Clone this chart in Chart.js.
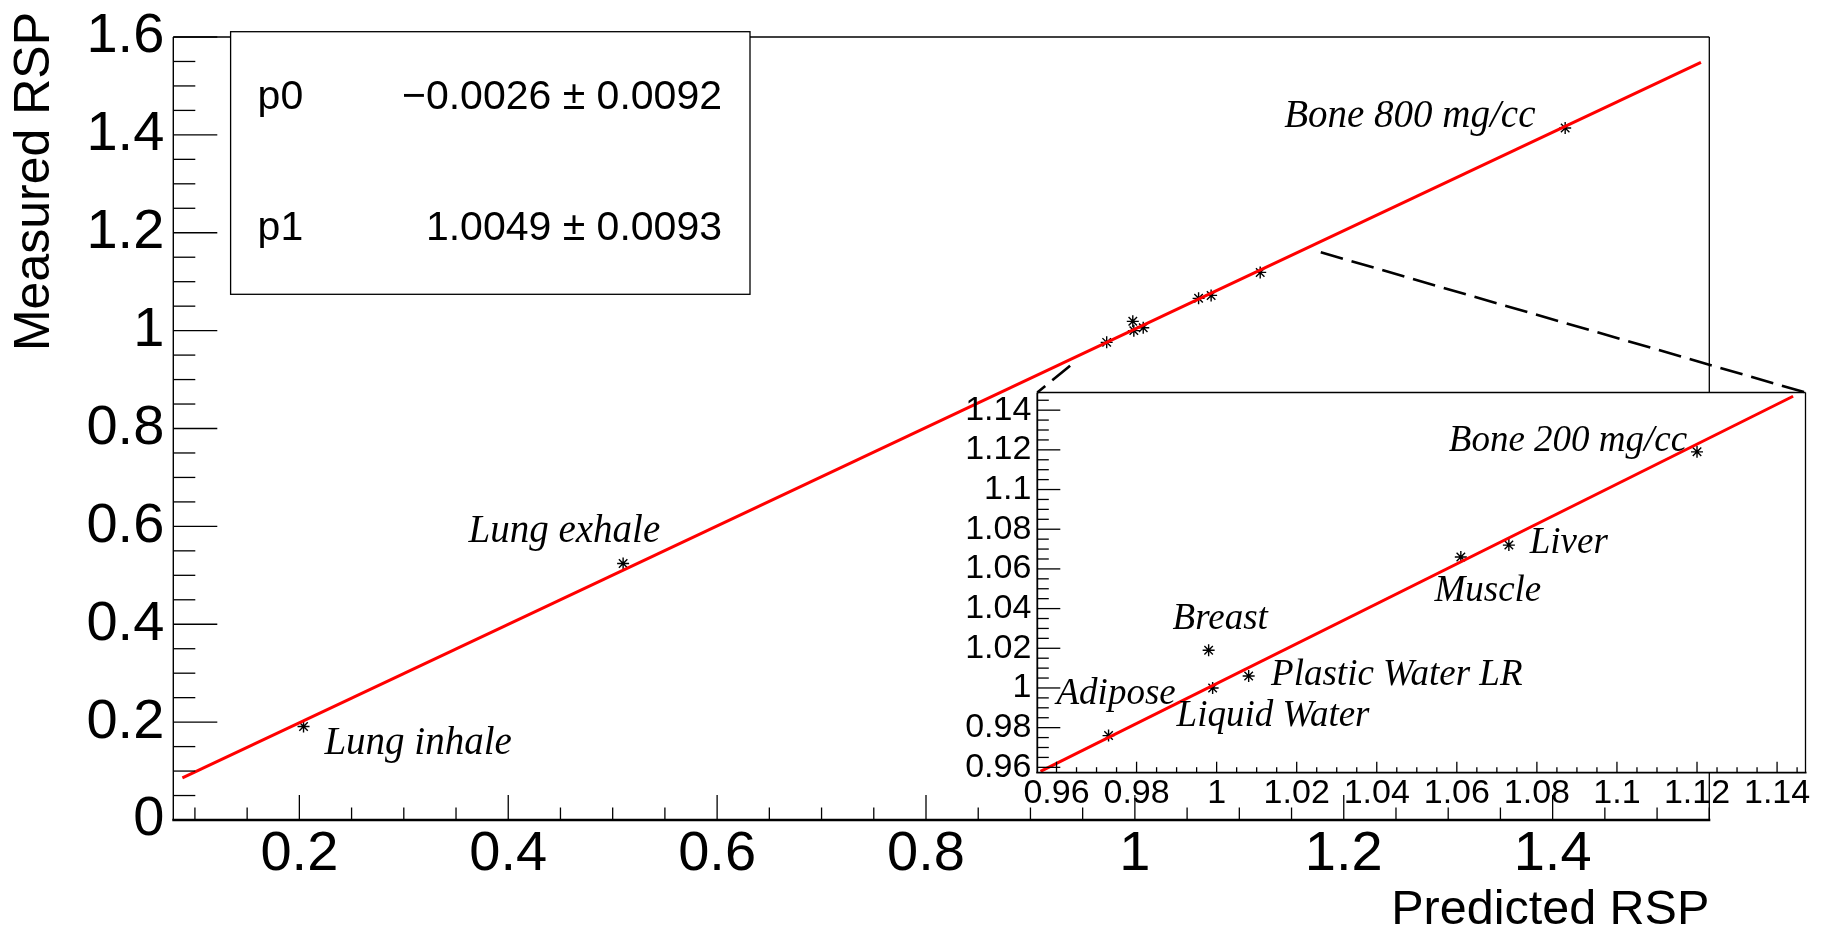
<!DOCTYPE html>
<html lang="en">
<head>
  <meta charset="UTF-8" />
  <title>Measured vs predicted RSP</title>
  <script src="https://cdn.jsdelivr.net/npm/chart.js@4.4.0/dist/chart.umd.min.js"></script>
  <style>
    body { margin: 0; background: #fff; }
    .wrap { position: relative; width: 1828px; height: 935px; }
    canvas { position: absolute; left: 0; top: 0; }
  </style>
</head>
<body>
  <div class="wrap">
    <canvas id="mainChart" width="1828" height="935"></canvas>
    <canvas id="zoomChart" width="1828" height="935"></canvas>
  </div>

  <script>
    // tissue materials, predicted vs measured relative stopping power
    const materials    = ['Lung inhale', 'Lung exhale', 'Adipose', 'Breast', 'Liquid Water',
                          'Plastic Water LR', 'Muscle', 'Liver', 'Bone 200 mg/cc', 'Bone 800 mg/cc'];
    const predictedRSP = [0.204, 0.510, 0.973, 0.998, 0.999, 1.008, 1.061, 1.073, 1.120, 1.412];
    const measuredRSP  = [0.191, 0.524, 0.976, 1.019, 1.000, 1.006, 1.066, 1.072, 1.119, 1.414];

    // where each name is written (data coords of the text's left baseline) and in which panel
    const labelPanel = ['main', 'main', 'zoom', 'zoom', 'zoom', 'zoom', 'zoom', 'zoom', 'zoom', 'main'];
    const labelX     = [0.224, 0.362, 0.960, 0.989, 0.990, 1.0136, 1.0544, 1.0782, 1.058, 1.143];
    const labelY     = [0.134, 0.569, 0.992, 1.0295, 0.981, 1.0015, 1.044, 1.0678, 1.1195, 1.417];

    // pol1 fit, ends of the drawn line
    const fitLineX  = [0.088, 1.542];
    const fitLineY  = [0.086, 1.548];
    const zoomFitX  = [0.956, 1.144];
    const zoomFitY  = [0.958, 1.147];
    const fitNames  = ['p0', 'p1'];
    const fitValues = ['\u22120.0026 \u00b1 0.0092', '1.0049 \u00b1 0.0093'];

    // axis ranges
    const mainX = [0.0793, 1.55];
    const mainY = [0, 1.6];
    const zoomX = [0.9552, 1.1471];
    const zoomY = [0.9573, 1.1489];
    // corners of the zoomed region in the big plot, joined to the inset by dashes
    const zoomFromX = [0.938, 1.178];
    const zoomFromY = [0.928, 1.160];

    Chart.defaults.font.family = "'Liberation Sans', Arial, sans-serif";
    Chart.defaults.color = '#000';

    const fmt = v => String(Number(v.toFixed(3)));
    const pts = (xs, ys) => xs.map((x, i) => ({ x: x, y: ys[i] }));

    function tickValues(min, max, step) {
      const out = [];
      for (let k = Math.ceil(min / step - 1e-6); k * step <= max + 1e-9; k++) out.push(k * step);
      return out;
    }

    function makeRootPlugin(cfg) {
      return {
        id: 'rootStyle',
        beforeDraw(chart) {
          const { ctx, chartArea: a } = chart;
          ctx.save();
          ctx.fillStyle = '#fff';
          ctx.fillRect(a.left, a.top, a.right - a.left, a.bottom - a.top);
          ctx.restore();
        },
        afterDraw(chart) {
          const { ctx, chartArea: a, scales } = chart;
          const sx = scales.x, sy = scales.y;
          const line = (x1, y1, x2, y2) => { ctx.beginPath(); ctx.moveTo(x1, y1); ctx.lineTo(x2, y2); ctx.stroke(); };
          const isMajor = (v, m) => Math.abs(v / m - Math.round(v / m)) < 1e-6;
          ctx.save();
          ctx.strokeStyle = '#000';

          // ticks, pointing into the frame
          ctx.lineWidth = 1.3;
          tickValues(sx.min, sx.max, cfg.xMinor).forEach(v => {
            const p = sx.getPixelForValue(v);
            line(p, a.bottom, p, a.bottom - (isMajor(v, cfg.xMajor) ? cfg.xTick : cfg.xTick / 2));
          });
          tickValues(sy.min, sy.max, cfg.yMinor).forEach(v => {
            const p = sy.getPixelForValue(v);
            line(a.left, p, a.left + (isMajor(v, cfg.yMajor) ? cfg.yTick : cfg.yTick / 2), p);
          });

          // frame
          ctx.lineWidth = 1.3;
          line(a.left, a.top, a.right, a.top);
          line(a.right, a.top, a.right, a.bottom);
          ctx.lineWidth = cfg.yAxisWidth;
          line(a.left, a.top, a.left, a.bottom);
          ctx.lineWidth = cfg.xAxisWidth;
          line(a.left - 1, a.bottom, a.right + 1, a.bottom);

          // material names
          ctx.fillStyle = '#000';
          ctx.font = 'italic ' + cfg.labelSize + "px 'Liberation Serif', 'Times New Roman', serif";
          ctx.textAlign = 'left';
          ctx.textBaseline = 'alphabetic';
          materials.forEach((name, i) => {
            if (labelPanel[i] !== cfg.panel) return;
            ctx.fillText(name, sx.getPixelForValue(labelX[i]), sy.getPixelForValue(labelY[i]));
          });
          ctx.restore();

          if (cfg.extra) cfg.extra(chart);
        }
      };
    }

    // fit box and y title of the big plot
    function drawStats(chart) {
      const { ctx } = chart;
      const box = { left: 230.6, top: 31.7, right: 750, bottom: 294.3 };
      ctx.save();
      ctx.fillStyle = '#fff';
      ctx.fillRect(box.left, box.top, box.right - box.left, box.bottom - box.top);
      ctx.strokeStyle = '#000';
      ctx.lineWidth = 1.3;
      ctx.strokeRect(box.left, box.top, box.right - box.left, box.bottom - box.top);
      ctx.fillStyle = '#000';
      ctx.font = "41px 'Liberation Sans', Arial, sans-serif";
      ctx.textBaseline = 'middle';
      const h = box.bottom - box.top;
      fitNames.forEach((name, i) => {
        const yy = box.top + h * (i * 2 + 1) / 4;
        ctx.textAlign = 'left';
        ctx.fillText(name, box.left + 27, yy);
        ctx.textAlign = 'right';
        ctx.fillText(fitValues[i], box.right - 28, yy);
      });

      ctx.font = "50px 'Liberation Sans', Arial, sans-serif";
      ctx.translate(35, 12);
      ctx.rotate(-Math.PI / 2);
      ctx.textAlign = 'right';
      ctx.fillText('Measured RSP', 0, 0);
      ctx.restore();
    }

    const mainChart = new Chart(document.getElementById('mainChart'), {
      type: 'scatter',
      data: {
        datasets: [
          { data: pts(fitLineX, fitLineY), showLine: true, borderColor: '#ff0000', borderWidth: 3, pointRadius: 0 },
          { data: pts(predictedRSP, measuredRSP), pointStyle: 'star', pointRadius: 6,
            borderColor: '#000', borderWidth: 1.4 }
        ]
      },
      options: {
        responsive: false,
        animation: false,
        events: [],
        layout: { padding: { left: 0, top: 31.5, right: 118.7, bottom: 0 } },
        plugins: { legend: { display: false }, tooltip: { enabled: false } },
        scales: {
          x: {
            type: 'linear', position: 'bottom', min: mainX[0], max: mainX[1],
            grid: { display: false, drawTicks: false }, border: { display: false },
            ticks: { stepSize: 0.2, includeBounds: false, autoSkip: false, maxRotation: 0, minRotation: 0,
                     padding: 7, font: { size: 56, lineHeight: 1 }, callback: fmt },
            title: { display: true, text: 'Predicted RSP', align: 'end', padding: 0,
                     font: { size: 48.5, lineHeight: 1 } },
            afterFit: s => { s.height = 115; }
          },
          y: {
            type: 'linear', position: 'left', min: mainY[0], max: mainY[1],
            grid: { display: false, drawTicks: false }, border: { display: false },
            ticks: { stepSize: 0.2, includeBounds: false, autoSkip: false, padding: 9,
                     font: { size: 56, lineHeight: 1 }, callback: fmt },
            afterFit: s => { s.width = 173.3; }
          }
        }
      },
      plugins: [makeRootPlugin({ panel: 'main', xMajor: 0.2, xMinor: 0.05, yMajor: 0.2, yMinor: 0.05,
                                 xTick: 25, yTick: 44, xAxisWidth: 2.6, yAxisWidth: 1.4, labelSize: 39,
                                 extra: drawStats })]
    });

    // dashed lines from the zoomed region to the inset's upper corners
    function drawZoomLines(chart) {
      const { ctx, chartArea: a } = chart;
      const mx = mainChart.scales.x, my = mainChart.scales.y;
      ctx.save();
      ctx.strokeStyle = '#000';
      ctx.lineWidth = 2.6;
      ctx.setLineDash([23, 9]);
      const ends = [a.left, a.right];
      zoomFromX.forEach((v, i) => {
        ctx.beginPath();
        ctx.moveTo(mx.getPixelForValue(v), my.getPixelForValue(zoomFromY[i]));
        ctx.lineTo(ends[i], a.top);
        ctx.stroke();
      });
      ctx.restore();
    }

    new Chart(document.getElementById('zoomChart'), {
      type: 'scatter',
      data: {
        datasets: [
          { data: pts(zoomFitX, zoomFitY), showLine: true, borderColor: '#ff0000', borderWidth: 3, pointRadius: 0 },
          { data: pts(predictedRSP, measuredRSP), pointStyle: 'star', pointRadius: 6,
            borderColor: '#000', borderWidth: 1.4 }
        ]
      },
      options: {
        responsive: false,
        animation: false,
        events: [],
        layout: { padding: { left: 937.3, top: 392.5, right: 22.5, bottom: 0 } },
        plugins: { legend: { display: false }, tooltip: { enabled: false } },
        scales: {
          x: {
            type: 'linear', position: 'bottom', min: zoomX[0], max: zoomX[1],
            grid: { display: false, drawTicks: false }, border: { display: false },
            ticks: { stepSize: 0.02, includeBounds: false, autoSkip: false, maxRotation: 0, minRotation: 0,
                     padding: 4, font: { size: 34, lineHeight: 1 }, callback: fmt },
            afterFit: s => { s.height = 162.3; }
          },
          y: {
            type: 'linear', position: 'left', min: zoomY[0], max: zoomY[1],
            grid: { display: false, drawTicks: false }, border: { display: false },
            ticks: { stepSize: 0.02, includeBounds: false, autoSkip: false, padding: 6,
                     font: { size: 34, lineHeight: 1 }, callback: fmt },
            afterFit: s => { s.width = 100; }
          }
        }
      },
      plugins: [makeRootPlugin({ panel: 'zoom', xMajor: 0.02, xMinor: 0.005, yMajor: 0.02, yMinor: 0.005,
                                 xTick: 11, yTick: 23, xAxisWidth: 1.8, yAxisWidth: 1.8, labelSize: 37,
                                 extra: drawZoomLines })]
    });
  </script>
</body>
</html>
